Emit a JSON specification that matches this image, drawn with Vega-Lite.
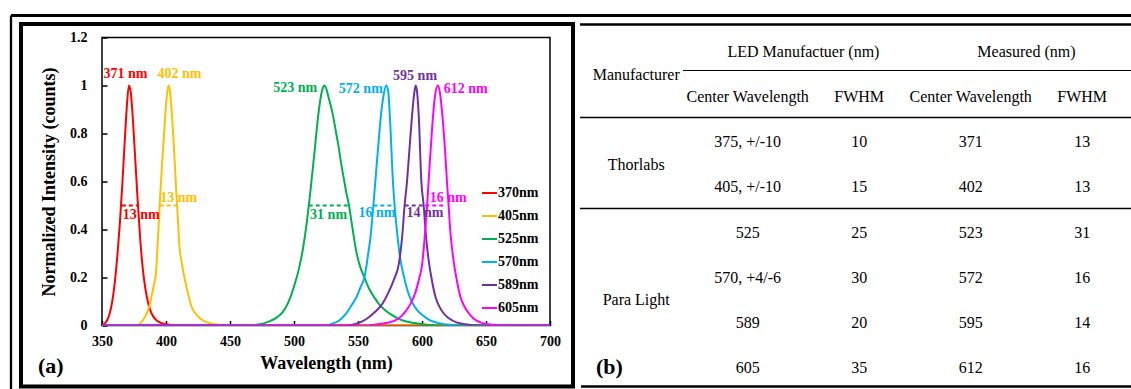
{
  "$schema": "https://vega.github.io/schema/vega-lite/v6.json",
  "autosize": {"type": "pad"},
  "padding": {"left": 8, "top": 12.5, "right": 0, "bottom": 0},
  "background": "#ffffff",
  "bounds": "flush",
  "spacing": 30,
  "config": {
    "view": {"stroke": null},
    "font": "Liberation Serif"
  },
  "datasets": {
    "spectra": [
      {"s":"370nm","w":350,"v":0},{"s":"370nm","w":352,"v":0.008},{"s":"370nm","w":354,"v":0.022},{"s":"370nm","w":356,"v":0.05},{"s":"370nm","w":358,"v":0.1},{"s":"370nm","w":360,"v":0.18},{"s":"370nm","w":362,"v":0.29},{"s":"370nm","w":364,"v":0.43},{"s":"370nm","w":366,"v":0.6},{"s":"370nm","w":368,"v":0.79},{"s":"370nm","w":369.5,"v":0.92},{"s":"370nm","w":371,"v":1.0},{"s":"370nm","w":372.5,"v":0.97},{"s":"370nm","w":374,"v":0.87},{"s":"370nm","w":376,"v":0.69},{"s":"370nm","w":378,"v":0.51},{"s":"370nm","w":380,"v":0.35},{"s":"370nm","w":382,"v":0.23},{"s":"370nm","w":384,"v":0.15},{"s":"370nm","w":386,"v":0.095},{"s":"370nm","w":388,"v":0.06},{"s":"370nm","w":390,"v":0.038},{"s":"370nm","w":393,"v":0.02},{"s":"370nm","w":396,"v":0.011},{"s":"370nm","w":400,"v":0.005},{"s":"370nm","w":405,"v":0.002},{"s":"370nm","w":412,"v":0},{"s":"370nm","w":700,"v":0},
      {"s":"405nm","w":350,"v":0},{"s":"405nm","w":378,"v":0},{"s":"405nm","w":381,"v":0.015},{"s":"405nm","w":384,"v":0.04},{"s":"405nm","w":387,"v":0.08},{"s":"405nm","w":389,"v":0.13},{"s":"405nm","w":391,"v":0.18},{"s":"405nm","w":392,"v":0.21},{"s":"405nm","w":393,"v":0.29},{"s":"405nm","w":394,"v":0.39},{"s":"405nm","w":395,"v":0.5},{"s":"405nm","w":397,"v":0.68},{"s":"405nm","w":399,"v":0.84},{"s":"405nm","w":400.5,"v":0.95},{"s":"405nm","w":402,"v":1.0},{"s":"405nm","w":403,"v":0.98},{"s":"405nm","w":404,"v":0.92},{"s":"405nm","w":406,"v":0.76},{"s":"405nm","w":408,"v":0.56},{"s":"405nm","w":409,"v":0.47},{"s":"405nm","w":410.5,"v":0.33},{"s":"405nm","w":412,"v":0.27},{"s":"405nm","w":414,"v":0.21},{"s":"405nm","w":416,"v":0.16},{"s":"405nm","w":418,"v":0.115},{"s":"405nm","w":420,"v":0.078},{"s":"405nm","w":423,"v":0.05},{"s":"405nm","w":427,"v":0.028},{"s":"405nm","w":432,"v":0.013},{"s":"405nm","w":438,"v":0.005},{"s":"405nm","w":445,"v":0.001},{"s":"405nm","w":455,"v":0},{"s":"405nm","w":700,"v":0},
      {"s":"525nm","w":350,"v":0},{"s":"525nm","w":465,"v":0},{"s":"525nm","w":472,"v":0.004},{"s":"525nm","w":477,"v":0.01},{"s":"525nm","w":482,"v":0.02},{"s":"525nm","w":487,"v":0.035},{"s":"525nm","w":491,"v":0.055},{"s":"525nm","w":495,"v":0.09},{"s":"525nm","w":498,"v":0.13},{"s":"525nm","w":501,"v":0.18},{"s":"525nm","w":504,"v":0.24},{"s":"525nm","w":507,"v":0.32},{"s":"525nm","w":510,"v":0.43},{"s":"525nm","w":512,"v":0.52},{"s":"525nm","w":514,"v":0.62},{"s":"525nm","w":516,"v":0.72},{"s":"525nm","w":518,"v":0.83},{"s":"525nm","w":520,"v":0.92},{"s":"525nm","w":522,"v":0.98},{"s":"525nm","w":523.5,"v":1.0},{"s":"525nm","w":525,"v":0.99},{"s":"525nm","w":527,"v":0.95},{"s":"525nm","w":529,"v":0.91},{"s":"525nm","w":531,"v":0.86},{"s":"525nm","w":533,"v":0.8},{"s":"525nm","w":535,"v":0.74},{"s":"525nm","w":537,"v":0.67},{"s":"525nm","w":539,"v":0.61},{"s":"525nm","w":541,"v":0.55},{"s":"525nm","w":543,"v":0.5},{"s":"525nm","w":545,"v":0.43},{"s":"525nm","w":547,"v":0.36},{"s":"525nm","w":549,"v":0.3},{"s":"525nm","w":552,"v":0.24},{"s":"525nm","w":555,"v":0.2},{"s":"525nm","w":559,"v":0.15},{"s":"525nm","w":563,"v":0.115},{"s":"525nm","w":567,"v":0.085},{"s":"525nm","w":571,"v":0.065},{"s":"525nm","w":576,"v":0.045},{"s":"525nm","w":581,"v":0.03},{"s":"525nm","w":587,"v":0.018},{"s":"525nm","w":594,"v":0.01},{"s":"525nm","w":602,"v":0.004},{"s":"525nm","w":612,"v":0.001},{"s":"525nm","w":625,"v":0},{"s":"525nm","w":700,"v":0},
      {"s":"570nm","w":350,"v":0},{"s":"570nm","w":525,"v":0},{"s":"570nm","w":530,"v":0.008},{"s":"570nm","w":535,"v":0.02},{"s":"570nm","w":540,"v":0.045},{"s":"570nm","w":545,"v":0.085},{"s":"570nm","w":549,"v":0.12},{"s":"570nm","w":552,"v":0.16},{"s":"570nm","w":555,"v":0.2},{"s":"570nm","w":558,"v":0.3},{"s":"570nm","w":560,"v":0.38},{"s":"570nm","w":562,"v":0.5},{"s":"570nm","w":564,"v":0.63},{"s":"570nm","w":566,"v":0.76},{"s":"570nm","w":568,"v":0.88},{"s":"570nm","w":570,"v":0.96},{"s":"570nm","w":572,"v":1.0},{"s":"570nm","w":573.5,"v":0.98},{"s":"570nm","w":575,"v":0.86},{"s":"570nm","w":577.3,"v":0.6},{"s":"570nm","w":578.6,"v":0.5},{"s":"570nm","w":580.5,"v":0.39},{"s":"570nm","w":583,"v":0.28},{"s":"570nm","w":585.6,"v":0.21},{"s":"570nm","w":589,"v":0.14},{"s":"570nm","w":592,"v":0.1},{"s":"570nm","w":596,"v":0.065},{"s":"570nm","w":600,"v":0.045},{"s":"570nm","w":606,"v":0.022},{"s":"570nm","w":613,"v":0.01},{"s":"570nm","w":622,"v":0.003},{"s":"570nm","w":635,"v":0},{"s":"570nm","w":700,"v":0},
      {"s":"589nm","w":350,"v":0},{"s":"589nm","w":540,"v":0},{"s":"589nm","w":550,"v":0.01},{"s":"589nm","w":556,"v":0.025},{"s":"589nm","w":563,"v":0.055},{"s":"589nm","w":569,"v":0.09},{"s":"589nm","w":574,"v":0.14},{"s":"589nm","w":578,"v":0.19},{"s":"589nm","w":582,"v":0.26},{"s":"589nm","w":584.5,"v":0.37},{"s":"589nm","w":586.4,"v":0.5},{"s":"589nm","w":588.3,"v":0.6},{"s":"589nm","w":590,"v":0.72},{"s":"589nm","w":592,"v":0.86},{"s":"589nm","w":594,"v":0.97},{"s":"589nm","w":595,"v":1.0},{"s":"589nm","w":596,"v":0.98},{"s":"589nm","w":597.5,"v":0.87},{"s":"589nm","w":599.5,"v":0.6},{"s":"589nm","w":601.3,"v":0.5},{"s":"589nm","w":603,"v":0.38},{"s":"589nm","w":605,"v":0.28},{"s":"589nm","w":608,"v":0.18},{"s":"589nm","w":610.5,"v":0.12},{"s":"589nm","w":613,"v":0.085},{"s":"589nm","w":617,"v":0.05},{"s":"589nm","w":621,"v":0.03},{"s":"589nm","w":627,"v":0.013},{"s":"589nm","w":634,"v":0.005},{"s":"589nm","w":645,"v":0},{"s":"589nm","w":700,"v":0},
      {"s":"605nm","w":350,"v":0},{"s":"605nm","w":555,"v":0},{"s":"605nm","w":565,"v":0.005},{"s":"605nm","w":572,"v":0.01},{"s":"605nm","w":577,"v":0.017},{"s":"605nm","w":582,"v":0.03},{"s":"605nm","w":587,"v":0.058},{"s":"605nm","w":591,"v":0.09},{"s":"605nm","w":595,"v":0.14},{"s":"605nm","w":598,"v":0.2},{"s":"605nm","w":600,"v":0.25},{"s":"605nm","w":602,"v":0.36},{"s":"605nm","w":604,"v":0.5},{"s":"605nm","w":606,"v":0.67},{"s":"605nm","w":608,"v":0.83},{"s":"605nm","w":610,"v":0.95},{"s":"605nm","w":612.4,"v":1.0},{"s":"605nm","w":614,"v":0.97},{"s":"605nm","w":616,"v":0.87},{"s":"605nm","w":618,"v":0.73},{"s":"605nm","w":619.5,"v":0.6},{"s":"605nm","w":620.8,"v":0.5},{"s":"605nm","w":622,"v":0.4},{"s":"605nm","w":623.5,"v":0.32},{"s":"605nm","w":625.5,"v":0.24},{"s":"605nm","w":627.5,"v":0.18},{"s":"605nm","w":630,"v":0.12},{"s":"605nm","w":632.5,"v":0.086},{"s":"605nm","w":636,"v":0.055},{"s":"605nm","w":640,"v":0.03},{"s":"605nm","w":647,"v":0.01},{"s":"605nm","w":655,"v":0.003},{"s":"605nm","w":665,"v":0},{"s":"605nm","w":700,"v":0}
    ],
    "fwhm": [
      {"s":"370nm","lo":365.5,"hi":378.1,"t":"13 nm","tx":380.6,"ty":0.461},
      {"s":"405nm","lo":395,"hi":408.2,"t":"13 nm","tx":410,"ty":0.53},
      {"s":"525nm","lo":511.5,"hi":542.5,"t":"31 nm","tx":527,"ty":0.462},
      {"s":"570nm","lo":562,"hi":578.4,"t":"16 nm","tx":564.8,"ty":0.468},
      {"s":"589nm","lo":586.5,"hi":602,"t":"14 nm","tx":602.3,"ty":0.468},
      {"s":"605nm","lo":602.5,"hi":618.5,"t":"16 nm","tx":620.4,"ty":0.533}
    ],
    "peaks": [
      {"s":"370nm","t":"371 nm","x":368.3,"y":1.046},
      {"s":"405nm","t":"402 nm","x":410.5,"y":1.046},
      {"s":"525nm","t":"523 nm","x":501,"y":0.99},
      {"s":"570nm","t":"572 nm","x":552.2,"y":0.985},
      {"s":"589nm","t":"595 nm","x":594.6,"y":1.04},
      {"s":"605nm","t":"612 nm","x":634.2,"y":0.985}
    ],
    "table": [
      {"col":0,"row":0.5,"t":"Manufacturer"},
      {"col":1.5,"row":0,"t":"LED Manufactuer (nm)"},
      {"col":3.5,"row":0,"t":"Measured (nm)"},
      {"col":1,"row":1,"t":"Center Wavelength"},
      {"col":2,"row":1,"t":"FWHM"},
      {"col":3,"row":1,"t":"Center Wavelength"},
      {"col":4,"row":1,"t":"FWHM"},
      {"col":0,"row":2.5,"t":"Thorlabs"},
      {"col":0,"row":5.5,"t":"Para Light"},
      {"col":1,"row":2,"t":"375, +/-10"},{"col":2,"row":2,"t":"10"},{"col":3,"row":2,"t":"371"},{"col":4,"row":2,"t":"13"},
      {"col":1,"row":3,"t":"405, +/-10"},{"col":2,"row":3,"t":"15"},{"col":3,"row":3,"t":"402"},{"col":4,"row":3,"t":"13"},
      {"col":1,"row":4,"t":"525"},{"col":2,"row":4,"t":"25"},{"col":3,"row":4,"t":"523"},{"col":4,"row":4,"t":"31"},
      {"col":1,"row":5,"t":"570, +4/-6"},{"col":2,"row":5,"t":"30"},{"col":3,"row":5,"t":"572"},{"col":4,"row":5,"t":"16"},
      {"col":1,"row":6,"t":"589"},{"col":2,"row":6,"t":"20"},{"col":3,"row":6,"t":"595"},{"col":4,"row":6,"t":"14"},
      {"col":1,"row":7,"t":"605"},{"col":2,"row":7,"t":"35"},{"col":3,"row":7,"t":"612"},{"col":4,"row":7,"t":"16"}
    ]
  },
  "hconcat": [
    {
      "width": 448,
      "height": 288,
      "view": {"stroke": "#000000", "strokeWidth": 1.5},
      "layer": [
        {
          "data": {"values": [{}]},
          "mark": {"type": "rule", "color": "#000000", "strokeWidth": 2.3},
          "encoding": {
            "x": {"datum": 278.906, "type": "quantitative"},
            "y": {"datum": 1.29167, "type": "quantitative"},
            "y2": {"datum": -0.26667}
          }
        },
        {
          "data": {"values": [{}]},
          "mark": {"type": "rule", "color": "#000000", "strokeWidth": 3},
          "encoding": {
            "x": {"datum": 278.906, "type": "quantitative"},
            "x2": {"datum": 1154.69},
            "y": {"datum": 1.29167, "type": "quantitative"}
          }
        },
        {
          "data": {"values": [{}]},
          "mark": {"type": "rect", "filled": false, "color": "#000000", "strokeWidth": 4},
          "encoding": {
            "x": {"datum": 286.72, "type": "quantitative"},
            "x2": {"datum": 717.97},
            "y": {"datum": 1.25625, "type": "quantitative"},
            "y2": {"datum": -0.25417}
          }
        },
        {
          "data": {"values": [{}]},
          "mark": {"type": "text", "text": "(a)", "font": "Liberation Serif", "fontWeight": "bold", "fontSize": 22, "align": "left", "baseline": "middle", "color": "#000000"},
          "encoding": {
            "x": {"datum": 300, "type": "quantitative"},
            "y": {"datum": -0.1667, "type": "quantitative"}
          }
        },
        {
          "data": {"name": "fwhm"},
          "mark": {"type": "rule", "strokeWidth": 2, "strokeDash": [4, 3]},
          "encoding": {
            "x": {"field": "lo", "type": "quantitative"},
            "x2": {"field": "hi"},
            "y": {"datum": 0.5, "type": "quantitative"},
            "color": {"field": "s", "type": "nominal"}
          }
        },
        {
          "data": {"name": "spectra"},
          "mark": {"type": "line", "strokeWidth": 2, "interpolate": "monotone", "clip": true},
          "encoding": {
            "x": {
              "field": "w", "type": "quantitative",
              "scale": {"domain": [350, 700], "nice": false, "zero": false},
              "axis": {
                "values": [350,375,400,425,450,475,500,525,550,575,600,625,650,675,700],
                "labelExpr": "datum.value % 50 === 0 ? format(datum.value, 'd') : ''",
                "domain": false, "grid": false,
                "tickSize": -5, "tickColor": "#000000", "tickWidth": 1.5,
                "labelFont": "Liberation Serif", "labelFontWeight": "bold", "labelFontSize": 14, "labelColor": "#000000",
                "labelPadding": 14, "labelFlush": false, "labelOverlap": false, "labelBound": false,
                "title": "Wavelength (nm)", "titleFont": "Liberation Serif", "titleFontWeight": "bold", "titleFontSize": 18, "titleColor": "#000000", "titlePadding": 6
              }
            },
            "y": {
              "field": "v", "type": "quantitative",
              "scale": {"domain": [0, 1.2], "nice": false},
              "axis": {
                "values": [0,0.1,0.2,0.3,0.4,0.5,0.6,0.7,0.8,0.9,1,1.1,1.2],
                "labelExpr": "round(datum.value * 10) % 2 === 0 ? format(datum.value, '~g') : ''",
                "domain": false, "grid": false,
                "tickSize": -5, "tickColor": "#000000", "tickWidth": 1.5,
                "labelFont": "Liberation Serif", "labelFontWeight": "bold", "labelFontSize": 14, "labelColor": "#000000",
                "labelPadding": 20, "labelFlush": false, "labelOverlap": false, "labelBound": false,
                "title": "Normalized Intensity (counts)", "titleFont": "Liberation Serif", "titleFontWeight": "bold", "titleFontSize": 18, "titleColor": "#000000", "titlePadding": 11
              }
            },
            "color": {
              "field": "s", "type": "nominal",
              "scale": {
                "domain": ["370nm", "405nm", "525nm", "570nm", "589nm", "605nm"],
                "range": ["#FF0000", "#FFC000", "#00B050", "#00B0F0", "#7030A0", "#FF00FF"]
              },
              "legend": {
                "orient": "none", "legendX": 379, "legendY": 147,
                "title": null, "symbolType": "stroke", "symbolStrokeWidth": 2, "symbolSize": 225,
                "labelFont": "Liberation Serif", "labelFontWeight": "bold", "labelFontSize": 14, "labelColor": "#000000",
                "rowPadding": 7, "labelOffset": 0, "padding": 0
              }
            }
          }
        },
        {
          "data": {"name": "fwhm"},
          "mark": {"type": "text", "font": "Liberation Serif", "fontWeight": "bold", "fontSize": 14, "align": "center", "baseline": "middle"},
          "encoding": {
            "x": {"field": "tx", "type": "quantitative"},
            "y": {"field": "ty", "type": "quantitative"},
            "text": {"field": "t"},
            "color": {"field": "s", "type": "nominal"}
          }
        },
        {
          "data": {"name": "peaks"},
          "mark": {"type": "text", "font": "Liberation Serif", "fontWeight": "bold", "fontSize": 14, "align": "center", "baseline": "middle"},
          "encoding": {
            "x": {"field": "x", "type": "quantitative"},
            "y": {"field": "y", "type": "quantitative"},
            "text": {"field": "t"},
            "color": {"field": "s", "type": "nominal"}
          }
        }
      ]
    },
    {
      "width": 553,
      "height": 350,
      "view": {"stroke": null},
      "layer": [
        {
          "data": {"values": [{}]},
          "mark": {"type": "rule", "color": "#000000", "strokeWidth": 2.5},
          "encoding": {
            "x": {"datum": -0.504, "type": "quantitative", "scale": {"domain": [-0.504, 4.456], "nice": false, "zero": false}, "axis": null},
            "x2": {"datum": 4.447},
            "y": {"datum": -0.6117, "type": "quantitative", "scale": {"domain": [-0.3236, 7.434], "nice": false, "zero": false, "reverse": true}, "axis": null}
          }
        },
        {
          "data": {"values": [{}]},
          "mark": {"type": "rule", "color": "#000000", "strokeWidth": 1.2},
          "encoding": {
            "x": {"datum": 0.42, "type": "quantitative"},
            "x2": {"datum": 4.447},
            "y": {"datum": 0.4078, "type": "quantitative"}
          }
        },
        {
          "data": {"values": [{}]},
          "mark": {"type": "rule", "color": "#000000", "strokeWidth": 1.5},
          "encoding": {
            "x": {"datum": -0.504, "type": "quantitative"},
            "x2": {"datum": 4.447},
            "y": {"datum": 1.4494, "type": "quantitative"}
          }
        },
        {
          "data": {"values": [{}]},
          "mark": {"type": "rule", "color": "#000000", "strokeWidth": 1.5},
          "encoding": {
            "x": {"datum": -0.504, "type": "quantitative"},
            "x2": {"datum": 4.447},
            "y": {"datum": 3.4663, "type": "quantitative"}
          }
        },
        {
          "data": {"values": [{}]},
          "mark": {"type": "rule", "color": "#000000", "strokeWidth": 2.5},
          "encoding": {
            "x": {"datum": -0.495, "type": "quantitative"},
            "x2": {"datum": 4.447},
            "y": {"datum": 7.4113, "type": "quantitative"}
          }
        },
        {
          "data": {"values": [{}]},
          "mark": {"type": "text", "text": "(b)", "font": "Liberation Serif", "fontWeight": "bold", "fontSize": 22, "align": "left", "baseline": "middle", "color": "#000000"},
          "encoding": {
            "x": {"datum": -0.3605, "type": "quantitative"},
            "y": {"datum": 6.97, "type": "quantitative"}
          }
        },
        {
          "data": {"name": "table"},
          "mark": {"type": "text", "font": "Liberation Serif", "fontSize": 16, "align": "center", "baseline": "middle", "color": "#000000"},
          "encoding": {
            "x": {"field": "col", "type": "quantitative"},
            "y": {"field": "row", "type": "quantitative"},
            "text": {"field": "t"}
          }
        }
      ]
    }
  ]
}
